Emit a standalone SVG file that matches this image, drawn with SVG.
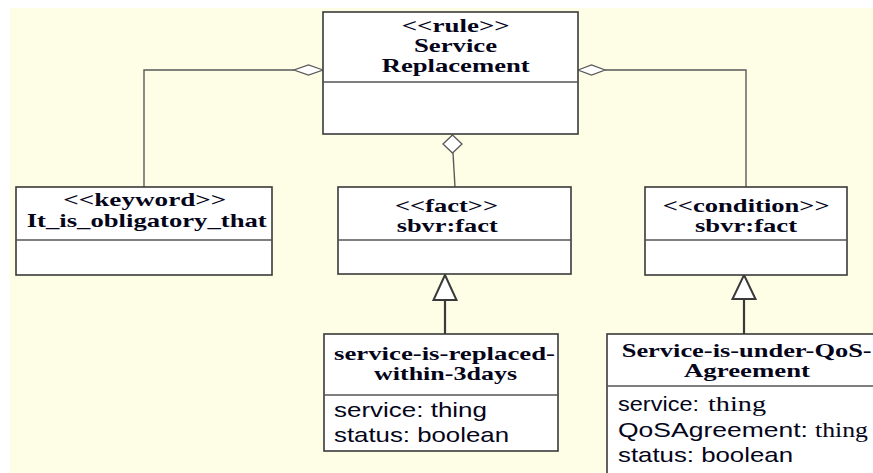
<svg xmlns="http://www.w3.org/2000/svg" width="873" height="473" viewBox="0 0 873 473">
  <style>
    .box { fill: #ffffff; stroke: #3a3a3a; stroke-width: 1.6; }
    .div { stroke: #555555; stroke-width: 1.4; fill: none; }
    .conn { stroke: #5a5a5a; stroke-width: 1.4; fill: none; }
    .agg { fill: #ffffff; stroke: #5a5a5a; stroke-width: 1.3; }
    .gen { fill: #ffffff; stroke: #3a3a3a; stroke-width: 2; }
    .genline { stroke: #3a3a3a; stroke-width: 2.2; fill: none; }
    .title { font-family: "Liberation Serif", "Times New Roman", serif; font-weight: bold; font-size: 19px; fill: #05051a; }
    .attr { font-family: "Liberation Sans", Arial, sans-serif; font-size: 21px; fill: #05051a; }
    .attrs { font-family: "Liberation Serif", "Times New Roman", serif; font-size: 22px; fill: #05051a; }
  </style>

  <rect x="0" y="0" width="873" height="473" fill="#ffffff"/>
  <rect x="10" y="8" width="863" height="465" fill="#fefee6"/>

  <!-- connectors -->
  <g id="connectors">
    <polyline class="conn" points="294,70 144,70 144,187"/>
    <polygon class="agg" points="323,70 308.5,65 294,70 308.5,75"/>
    <polyline class="conn" points="605,70 746,70 746,187"/>
    <polygon class="agg" points="578,70 591.5,65 605,70 591.5,75"/>
    <line class="conn" x1="453" y1="153" x2="455" y2="187"/>
    <polygon class="agg" points="452.5,135 462,144 452.5,153 443,144"/>
    <line class="genline" x1="445" y1="300" x2="445" y2="334"/>
    <polygon class="gen" points="445,275 456.5,300 433.5,300"/>
    <line class="genline" x1="744" y1="299" x2="744" y2="334"/>
    <polygon class="gen" points="744,275 755.5,299 732.5,299"/>
  </g>

  <g id="rule">
    <rect class="box" x="323" y="12" width="255" height="122"/>
    <line class="div" x1="323" y1="82" x2="578" y2="82"/>
    <text class="title" x="401.7" y="32" textLength="108" lengthAdjust="spacingAndGlyphs">&lt;&lt;rule&gt;&gt;</text>
    <text class="title" x="414" y="52" textLength="83" lengthAdjust="spacingAndGlyphs">Service</text>
    <text class="title" x="381.7" y="72" textLength="148" lengthAdjust="spacingAndGlyphs">Replacement</text>
  </g>

  <g id="keyword">
    <rect class="box" x="16" y="187" width="256" height="88"/>
    <line class="div" x1="16" y1="240" x2="272" y2="240"/>
    <text class="title" x="63.3" y="206" textLength="163" lengthAdjust="spacingAndGlyphs">&lt;&lt;keyword&gt;&gt;</text>
    <text class="title" x="26.7" y="227" textLength="240" lengthAdjust="spacingAndGlyphs">It_is_obligatory_that</text>
  </g>

  <g id="fact">
    <rect class="box" x="338" y="187" width="233" height="87"/>
    <line class="div" x1="338" y1="240" x2="571" y2="240"/>
    <text class="title" x="395" y="211.5" textLength="103" lengthAdjust="spacingAndGlyphs">&lt;&lt;fact&gt;&gt;</text>
    <text class="title" x="396.7" y="231.5" textLength="101" lengthAdjust="spacingAndGlyphs">sbvr:fact</text>
  </g>

  <g id="condition">
    <rect class="box" x="645" y="187" width="202" height="88"/>
    <line class="div" x1="645" y1="240" x2="847" y2="240"/>
    <text class="title" x="662.7" y="211.5" textLength="167" lengthAdjust="spacingAndGlyphs">&lt;&lt;condition&gt;&gt;</text>
    <text class="title" x="695" y="231.5" textLength="102" lengthAdjust="spacingAndGlyphs">sbvr:fact</text>
  </g>

  <g id="replaced">
    <rect class="box" x="324" y="334" width="234" height="117"/>
    <line class="div" x1="324" y1="395" x2="558" y2="395"/>
    <text class="title" x="334" y="359.5" textLength="221" lengthAdjust="spacingAndGlyphs">service-is-replaced-</text>
    <text class="title" x="374" y="379.5" textLength="143" lengthAdjust="spacingAndGlyphs">within-3days</text>
    <text class="attr" x="334" y="417" textLength="153" lengthAdjust="spacingAndGlyphs">service: thing</text>
    <text class="attr" x="334" y="442" textLength="175" lengthAdjust="spacingAndGlyphs">status: boolean</text>
  </g>

  <g id="agreement">
    <rect class="box" x="607" y="334" width="280" height="160"/>
    <line class="div" x1="607" y1="386" x2="873" y2="386"/>
    <text class="title" x="621.7" y="357" textLength="250" lengthAdjust="spacingAndGlyphs">Service-is-under-QoS-</text>
    <text class="title" x="684" y="377" textLength="126" lengthAdjust="spacingAndGlyphs">Agreement</text>
    <text class="attr" x="618" y="410.5" textLength="81" lengthAdjust="spacingAndGlyphs">service:</text>
    <text class="attrs" x="708" y="410.5" textLength="58" lengthAdjust="spacingAndGlyphs">thing</text>
    <text class="attr" x="618" y="436.5" textLength="190" lengthAdjust="spacingAndGlyphs">QoSAgreement:</text>
    <text class="attrs" x="815" y="436.5" textLength="53" lengthAdjust="spacingAndGlyphs">thing</text>
    <text class="attr" x="618" y="461.5" textLength="175" lengthAdjust="spacingAndGlyphs">status: boolean</text>
  </g>
</svg>
